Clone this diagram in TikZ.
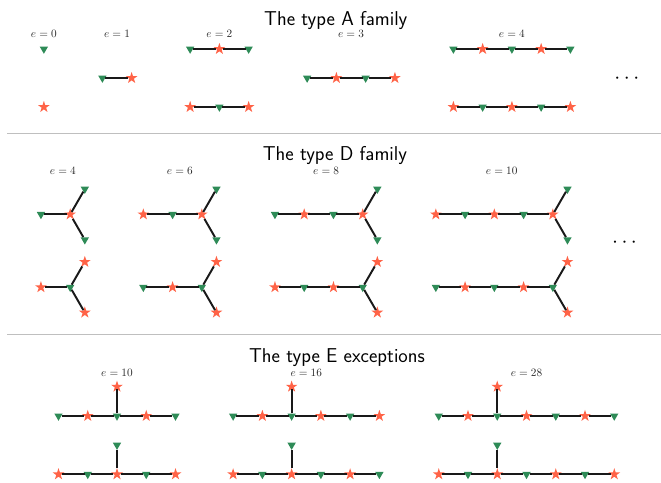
\documentclass[tikz,border=0pt]{standalone}
\usepackage{tikz}
\usetikzlibrary{shapes.geometric}
\definecolor{vgreen}{RGB}{46,139,87}
\definecolor{vred}{RGB}{255,99,71}
\tikzset{
  gv/.style={regular polygon, regular polygon sides=3, shape border rotate=180,
    fill=vgreen, draw=none, inner sep=0pt, minimum size=0.33cm},
  rv/.style={star, star points=5, star point ratio=2.6,
    fill=vred, draw=none, inner sep=0pt, minimum size=0.42cm},
  bond/.style={line width=1.9pt, black!90},
  lbl/.style={font=\fontsize{11}{13}\selectfont, text=black!85, anchor=base},
  heading/.style={font=\fontsize{19.5}{23}\selectfont\sffamily, anchor=base},
  more/.style={font=\fontsize{20}{24}\selectfont, anchor=base},
  rule/.style={line width=1.4pt, black!25},
}
\newcommand*{\Chain}[4]{% #1 = name, #2/#3 = first vertex, #4 = list of vertex styles
  \foreach \kind [count=\i] in {#4} {
    \node [\kind] (#1-\i) at (#2+\i-1,#3) {};
  }%
  \foreach \kind [count=\i, remember=\i as \j (initially 0)] in {#4} {
    \ifnum\i>1 \draw [bond] (#1-\j) -- (#1-\i); \fi
  }%
}
\newcommand*{\Fork}[3]{% #1 = chain, #2 = its last vertex, #3 = kind of the two ends
  \foreach \a/\s in {60/u,-60/d} {
    \node [#3, shift={(\a:1)}] (#1-\s) at (#1-#2) {};
    \draw [bond] (#1-#2) -- (#1-\s);
  }%
}
\newcommand*{\Spur}[2]{% #1 = chain, #2 = kind of the vertex on top
  \node [#2, shift={(0,1)}] (#1-u) at (#1-3) {};
  \draw [bond] (#1-3) -- (#1-u);
}

\begin{document}
\begin{tikzpicture}
  \useasboundingbox (0,0) rectangle (22.598,-16.479);
  % type A
  \node [heading] (titlea) at (11.48,-0.855) {The type A family};
  \foreach \e/\x in {0/1.5, 1/4, 2/7.5, 3/12, 4/17.5}
    \node [lbl] (la\e) at (\x,-1.29) {$e = \e$};
  \Chain{at0}{1.5}{-1.675}{gv}
  \Chain{ab0}{1.5}{-3.658}{rv}
  \Chain{a1}{3.5}{-2.667}{gv,rv}
  \Chain{at2}{6.5}{-1.675}{gv,rv,gv}
  \Chain{ab2}{6.5}{-3.658}{rv,gv,rv}
  \Chain{a3}{10.5}{-2.667}{gv,rv,gv,rv}
  \Chain{at4}{15.5}{-1.675}{gv,rv,gv,rv,gv}
  \Chain{ab4}{15.5}{-3.658}{rv,gv,rv,gv,rv}
  \node [more] (morea) at (21.43,-2.843) {$\cdots$};
  \draw [rule] (0.24,-4.571) -- (22.598,-4.571);
  % type D
  \node [heading] (titled) at (11.45,-5.494) {The type D family};
  \foreach \e/\x in {4/2.15, 6/6.15, 8/11.15, 10/17.15}
    \node [lbl] (ld\e) at (\x,-5.96) {$e = \e$};
  \Chain{dt4}{1.4}{-7.33}{gv,rv} \Fork{dt4}{2}{gv}
  \Chain{db4}{1.4}{-9.82}{rv,gv} \Fork{db4}{2}{rv}
  \Chain{dt6}{4.9}{-7.33}{rv,gv,rv} \Fork{dt6}{3}{gv}
  \Chain{db6}{4.9}{-9.82}{gv,rv,gv} \Fork{db6}{3}{rv}
  \Chain{dt8}{9.4}{-7.33}{gv,rv,gv,rv} \Fork{dt8}{4}{gv}
  \Chain{db8}{9.4}{-9.82}{rv,gv,rv,gv} \Fork{db8}{4}{rv}
  \Chain{dt10}{14.9}{-7.33}{rv,gv,rv,gv,rv} \Fork{dt10}{5}{gv}
  \Chain{db10}{14.9}{-9.82}{gv,rv,gv,rv,gv} \Fork{db10}{5}{rv}
  \node [more] (mored) at (21.35,-8.473) {$\cdots$};
  \draw [rule] (0.24,-11.443) -- (22.598,-11.443);
  % type E
  \node [heading] (titlee) at (11.52,-12.40) {The type E exceptions};
  \foreach \e/\x in {10/4, 16/10.47, 28/18}
    \node [lbl] (le\e) at (\x,-12.855) {$e = \e$};
  \Chain{et10}{2}{-14.22}{gv,rv,gv,rv,gv} \Spur{et10}{rv}
  \Chain{eb10}{2}{-16.216}{rv,gv,rv,gv,rv} \Spur{eb10}{gv}
  \Chain{et16}{7.97}{-14.22}{gv,rv,gv,rv,gv,rv} \Spur{et16}{rv}
  \Chain{eb16}{7.97}{-16.216}{rv,gv,rv,gv,rv,gv} \Spur{eb16}{gv}
  \Chain{et28}{15}{-14.22}{gv,rv,gv,rv,gv,rv,gv} \Spur{et28}{rv}
  \Chain{eb28}{15}{-16.216}{rv,gv,rv,gv,rv,gv,rv} \Spur{eb28}{gv}
\end{tikzpicture}
\end{document}
